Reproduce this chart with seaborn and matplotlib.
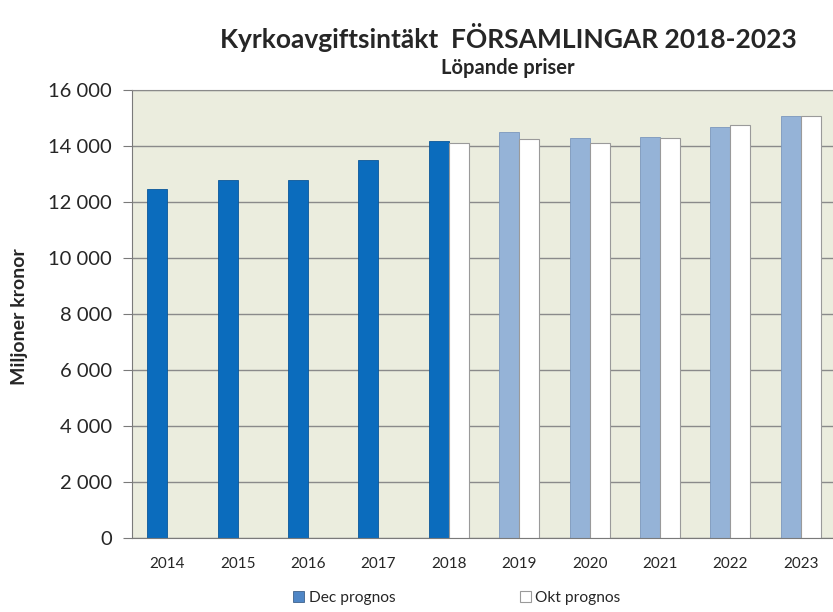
import matplotlib
matplotlib.use("Agg")
import matplotlib.pyplot as plt
import matplotlib.ticker as mticker
from matplotlib.patches import Patch
import numpy as np
import pandas as pd
import seaborn as sns

# ── Data ──────────────────────────────────────────────────────────────────────
years = ["2014", "2015", "2016", "2017", "2018",
         "2019", "2020", "2021", "2022", "2023"]
dec_prognos = [12450, 12790, 12790, 13500, 14190,
               14490, 14275, 14330, 14670, 15070]
okt_prognos = [np.nan, np.nan, np.nan, np.nan, 14120,
               14250, 14110, 14300, 14740, 15080]
n_outcome = 5  # first five Dec bars are outcomes (dark blue)

series_names = ["Dec prognos", "Okt prognos"]

df = pd.concat([
    pd.DataFrame({"year": years, "value": dec_prognos, "series": series_names[0]}),
    pd.DataFrame({"year": years, "value": okt_prognos, "series": series_names[1]}),
], ignore_index=True)

# ── Style ────────────────────────────────────────────────────────────────────
sns.set_style("white")
plt.rcParams["font.family"] = ["Lato", "DejaVu Sans"]

DARK_BLUE = "#0b6cbd"
LIGHT_BLUE = "#95b3d7"
PLOT_BG = "#ebedde"
GRID = "#8a8a8a"

fig = plt.figure(figsize=(8.33, 6.12), dpi=100)
ax = fig.add_axes([132 / 833, 1 - 538 / 612, 704 / 833, 448 / 612])
ax.set_facecolor(PLOT_BG)

sns.barplot(
    data=df, x="year", y="value", hue="series",
    order=years, hue_order=series_names,
    palette={series_names[0]: LIGHT_BLUE, series_names[1]: "white"},
    saturation=1, width=0.57, ax=ax, legend=False,
)

# outcome years in dark blue, white bars get a grey outline
for i, bar in enumerate(ax.containers[0]):
    bar.set_linewidth(0.6)
    if i < n_outcome:
        bar.set_facecolor(DARK_BLUE)
        bar.set_edgecolor("#0a5799")
    else:
        bar.set_edgecolor("#7b98bd")
for bar in ax.containers[1]:
    bar.set_edgecolor("#9a9a9a")
    bar.set_linewidth(0.8)

ax.set_ylim(0, 16000)
ax.set_xlim(-0.5, 9.5)
ax.yaxis.set_major_locator(mticker.MultipleLocator(2000))
ax.yaxis.set_major_formatter(
    mticker.FuncFormatter(lambda v, _: f"{v:,.0f}".replace(",", " ")))
ax.grid(axis="y", color=GRID, lw=1.0)
ax.set_axisbelow(True)

# category-boundary tick marks on the x axis
ax.xaxis.set_minor_locator(mticker.FixedLocator(np.arange(-0.5, 10, 1)))
ax.tick_params(axis="x", which="major", length=0, labelsize=11, pad=14)
ax.tick_params(axis="x", which="minor", length=10, direction="inout",
               color="#7a7a7a", width=1)
ax.tick_params(axis="y", which="major", length=6.5, direction="out",
               color="#7a7a7a", labelsize=14.5, left=True, pad=8)

ax.spines["right"].set_visible(False)
ax.spines["top"].set_color(GRID)
ax.spines["left"].set_color("#7a7a7a")
ax.spines["bottom"].set_color("#7a7a7a")

ax.set_xlabel("")
ax.set_ylabel("")
fig.text(20 / 833, 1 - 317 / 612, "Miljoner kronor", rotation=90,
         ha="center", va="center", fontsize=14, fontweight="bold")

fig.text(0.61, 1 - 37 / 612, "Kyrkoavgiftsintäkt  FÖRSAMLINGAR 2018-2023",
         ha="center", va="center", fontsize=19, fontweight="bold")
fig.text(0.61, 1 - 68 / 612, "Löpande priser",
         ha="center", va="center", fontsize=14.5, fontweight="bold")

handles = [Patch(facecolor="#4f86c6", edgecolor="#2a4f7a", lw=0.5),
           Patch(facecolor="white", edgecolor="#9a9a9a", lw=0.8)]
fig.legend(handles, series_names, loc="center", ncol=2, frameon=False,
           bbox_to_anchor=(457 / 833, 1 - 598 / 612), fontsize=11.2,
           handlelength=0.7, handleheight=0.7, handletextpad=0.3,
           columnspacing=8)

fig.savefig("out.png", dpi=100)
